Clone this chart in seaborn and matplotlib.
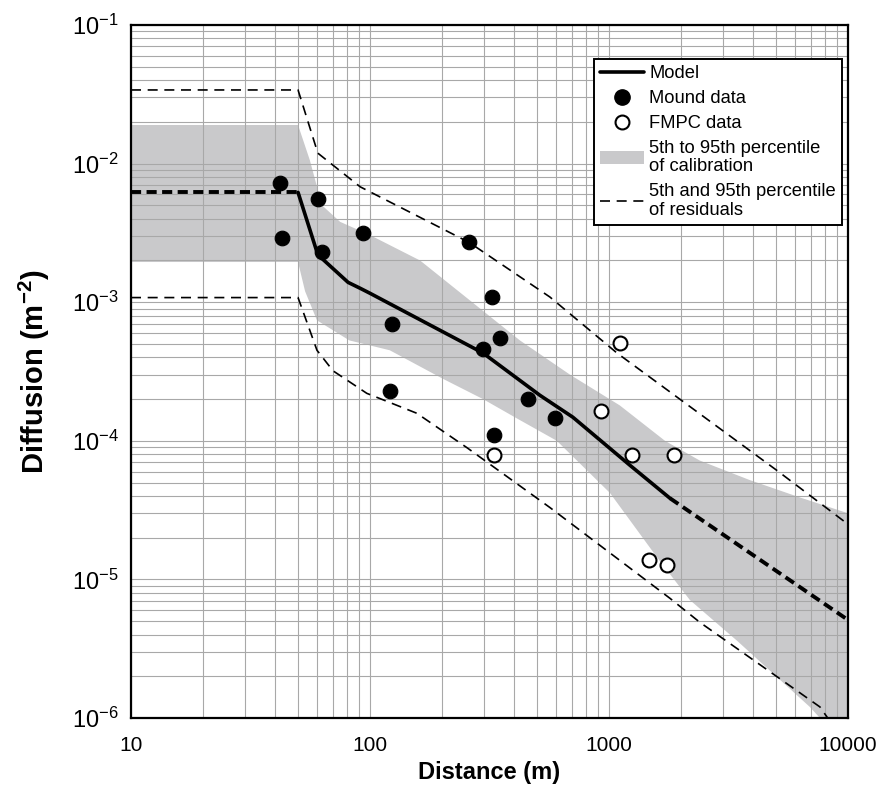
import numpy as np
import seaborn as sns
import matplotlib.pyplot as plt
from matplotlib.lines import Line2D
from matplotlib.patches import Patch

# Model curve (dashed where extrapolated)
model_x = [10, 50, 60.5, 81, 91, 100, 297, 514, 706, 1225, 1800, 10000]
model_y = [6.2e-3, 6.2e-3, 2.2e-3, 1.39e-3, 1.26e-3, 1.16e-3, 4.3e-4, 2.13e-4, 1.48e-4, 6.65e-5, 3.85e-5, 5.1e-6]

# 5th-95th percentile of calibration (grey band)
band_up_x = [10, 50, 56, 63, 75, 100, 162, 262, 424, 687, 1110, 1715, 2400, 3890, 6300, 10000]
band_up_y = [0.019, 0.019, 0.0106, 5.0e-3, 3.8e-3, 3.05e-3, 2.0e-3, 1.03e-3, 5.3e-4, 3.0e-4, 1.8e-4, 1.0e-4, 7.2e-5, 5.2e-5, 3.9e-5, 3.0e-5]
band_lo_x = [10, 50, 53.5, 60, 82, 121, 202, 297, 412, 605, 1010, 1585, 2180, 3440, 6930, 10000]
band_lo_y = [1.95e-3, 1.95e-3, 1.2e-3, 7.4e-4, 5.3e-4, 4.5e-4, 2.8e-4, 2.0e-4, 1.45e-4, 1.0e-4, 4.2e-5, 1.45e-5, 7.1e-6, 3.6e-6, 1.2e-6, 6e-7]

# 5th and 95th percentile of residuals
res_up_x = [10, 50, 60.5, 91, 260, 566, 1080, 5050, 10000]
res_up_y = [0.034, 0.034, 0.0119, 6.8e-3, 2.7e-3, 1.09e-3, 4.3e-4, 6.1e-5, 2.5e-5]
res_lo_x = [10, 50, 60, 70, 97, 157, 255, 566, 1800, 2400, 7640, 9000]
res_lo_y = [1.08e-3, 1.08e-3, 4.5e-4, 3.2e-4, 2.2e-4, 1.58e-4, 8.9e-5, 3.3e-5, 7.3e-6, 4.9e-6, 1.2e-6, 8e-7]

# Data points
mound_x = [42, 43, 60.5, 63, 93.6, 124, 121, 259, 324, 350, 297, 458, 330, 594]
mound_y = [7.3e-3, 2.9e-3, 5.6e-3, 2.3e-3, 3.15e-3, 7.0e-4, 2.3e-4, 2.7e-3, 1.09e-3, 5.5e-4, 4.6e-4, 2.0e-4, 1.11e-4, 1.45e-4]
fmpc_x = [330, 927, 1110, 1248, 1870, 1470, 1750]
fmpc_y = [7.9e-5, 1.63e-4, 5.1e-4, 7.9e-5, 7.9e-5, 1.39e-5, 1.26e-5]

sns.set_style("white")
plt.rcParams['font.family'] = ['Liberation Sans', 'DejaVu Sans']
plt.rcParams['mathtext.default'] = 'regular'
plt.rcParams['text.color'] = 'black'
plt.rcParams['axes.labelcolor'] = 'black'
plt.rcParams['xtick.color'] = 'black'
plt.rcParams['ytick.color'] = 'black'

fig = plt.figure(figsize=(8.81, 7.87), dpi=100)
ax = fig.add_axes([0.1487, 0.0877, 0.8138, 0.8805])
ax.set_xscale('log')
ax.set_yscale('log')

# grey band
poly_x = band_up_x + band_lo_x[::-1]
poly_y = band_up_y + band_lo_y[::-1]
ax.fill(poly_x, poly_y, color='#c9c9cb', lw=0, zorder=1)

# residual percentiles
for xs, ys in [(res_up_x, res_up_y), (res_lo_x, res_lo_y)]:
    sns.lineplot(x=xs, y=ys, ax=ax, color='black', lw=1.2, sort=False,
                 estimator=None, zorder=3).lines[-1].set_dashes((6, 4))

# model: solid over the data range, thick dashes outside it
sns.lineplot(x=model_x[1:11], y=model_y[1:11], ax=ax, color='black', lw=2.6,
             sort=False, estimator=None, zorder=4)
for sl in [slice(0, 2), slice(10, 12)]:
    ln = sns.lineplot(x=model_x[sl], y=model_y[sl], ax=ax, color='black', lw=2.8,
                      sort=False, estimator=None, zorder=4).lines[-1]
    ln.set_dashes((2.6, 1.4))

sns.scatterplot(x=mound_x, y=mound_y, ax=ax, s=110, color='black',
                edgecolor='black', zorder=5)
sns.scatterplot(x=fmpc_x, y=fmpc_y, ax=ax, s=100, facecolor='white',
                edgecolor='black', linewidth=1.5, zorder=5)

ax.set_xlim(10, 10000)
ax.set_ylim(1e-6, 1e-1)
ax.set_axisbelow('line')
ax.grid(True, which='both', color='#a8a8a8', lw=0.8)
ax.tick_params(which='both', length=0)
ax.tick_params(axis='y', labelsize=17, pad=9)
ax.set_xticks([10, 100, 1000, 10000])
ax.set_xticklabels(['10', '100', '1000', '10000'], fontsize=15)
ax.tick_params(axis='x', pad=13)
for s in ax.spines.values():
    s.set_color('black')
    s.set_linewidth(1.6)

ax.set_xlabel('Distance (m)', fontsize=17, fontweight='bold', labelpad=4)
ax.set_ylabel('Diffusion (m$^{-2}$)', fontsize=21, fontweight='bold', labelpad=14)

handles = [
    Line2D([], [], color='black', lw=2.6),
    Line2D([], [], marker='o', ls='none', color='black', markersize=11),
    Line2D([], [], marker='o', ls='none', markerfacecolor='white',
           markeredgecolor='black', markeredgewidth=1.5, markersize=10),
    Patch(facecolor='#c9c9cb', edgecolor='none'),
    Line2D([], [], color='black', lw=1.2, dashes=(6, 4)),
]
labels = ['Model', 'Mound data', 'FMPC data',
          '5th to 95th percentile\nof calibration',
          '5th and 95th percentile\nof residuals']
leg = ax.legend(handles, labels, loc='upper right', bbox_to_anchor=(0.992, 0.951),
                fontsize=13.2, frameon=True, fancybox=False, framealpha=1,
                edgecolor='black', handlelength=2.4, handletextpad=0.25,
                labelspacing=0.43, borderpad=0.35, borderaxespad=0)
leg.get_frame().set_linewidth(1.4)
for t in leg.get_texts():
    t.set_linespacing(1.1)

fig.savefig('out.png', dpi=100)
